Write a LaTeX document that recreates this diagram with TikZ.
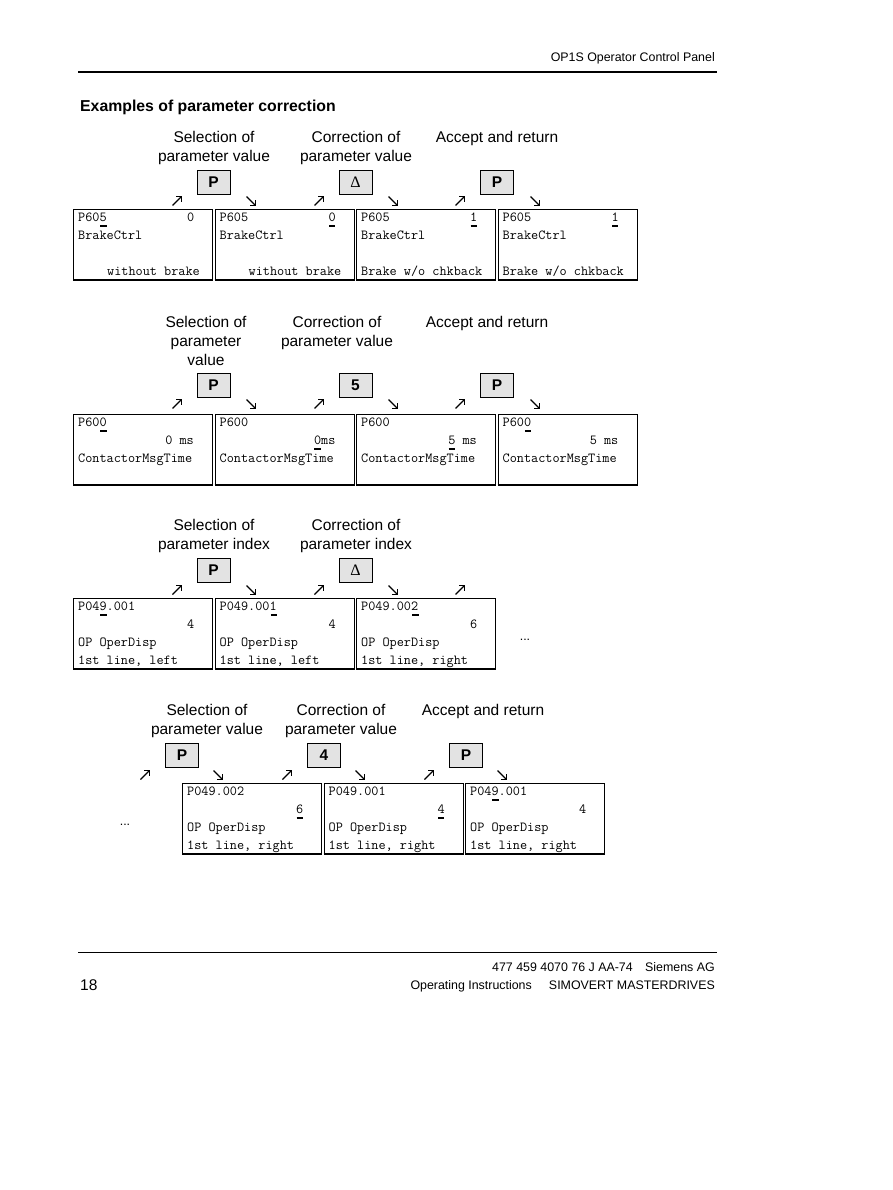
\documentclass[tikz,border=0pt]{standalone}
\usepackage{fontspec}
\setmainfont{Liberation Sans}
\newfontfamily\monof{Latin Modern Mono}
\newfontfamily\seriff{Liberation Serif}
\usetikzlibrary{calc}
\newcommand\dbx[3]{\node[dbox] (#1) at (#2,#3) {};\draw[line width=1.9pt] (#1.south west) -- (#1.south east);}
\newcommand\dtx[4]{\node[dtext] (#1l#3c#2) at ($(#1.north west)+({5+#2*7.26},{12.5+#3*18})$) {#4};}
\newcommand\dul[3]{\draw[uln] ($(#1.north west)+({5.6+#2*7.26},{17+#3*18})$) -- ++(6.2,0);}
\newcommand\aup[2]{\draw[arr] (#1,#2) ++(-4.5,4.5) -- ++(9,-9); \draw[ahd] (#1,#2) ++(-1,-4.5) -- ++(5.5,0) -- ++(0,5.5);}
\newcommand\adn[2]{\draw[arr] (#1,#2) ++(-4.5,-4.5) -- ++(9,9); \draw[ahd] (#1,#2) ++(-1,4.5) -- ++(5.5,0) -- ++(0,-5.5);}
\begin{document}
\begin{tikzpicture}[x=1pt,y=-1pt,
  lbl/.style={font=\fontsize{15.5}{19}\selectfont, align=center, inner sep=0pt, anchor=north},
  btn/.style={draw=black, line width=0.9pt, fill=black!11, minimum width=33pt, minimum height=24pt, inner sep=0pt, font=\fontsize{15.5}{18}\selectfont\bfseries},
  dbtn/.style={btn, font=\fontsize{16}{18}\selectfont\seriff},
  dbox/.style={draw=black, line width=1.1pt, minimum width=139pt, minimum height=70pt, anchor=north west, inner sep=0pt},
  dtext/.style={font=\monof\fontsize{13.83}{16}\selectfont, inner sep=0pt, anchor=base west},
  uln/.style={line width=1.2pt},
  arr/.style={line width=1.1pt},
  ahd/.style={line width=1.6pt, line join=miter},
  small/.style={font=\fontsize{12.4}{14}\selectfont, inner sep=0pt},
]
\fill[white] (0,0) rectangle (892,1190);
\useasboundingbox (0,0) rectangle (892,1190);

% header
\node[small, anchor=base east] (hdr) at (715,61.5) {OP1S Operator Control Panel};
\draw[line width=1.8pt] (78,72) -- (717,72);
\node[font=\fontsize{15.8}{19}\selectfont\bfseries, inner sep=0pt, anchor=base west] (title) at (80,112) {Examples of parameter correction};

% ---------- section 1
\node[lbl] (s1a) at (214,131) {Selection of\\parameter value};
\node[lbl] (s1b) at (356,131) {Correction of\\parameter value};
\node[lbl] (s1c) at (497,131) {Accept and return};
\node[btn] (k11) at (213.5,182) {P};
\node[dbtn] (k12) at (355.5,182) {Δ};
\node[btn] (k13) at (497,182) {P};
\aup{177}{201} \adn{251}{201} \aup{319}{201} \adn{393}{201} \aup{460}{201} \adn{535}{201}
\dbx{b11}{73}{209} \dbx{b12}{214.5}{209} \dbx{b13}{356}{209} \dbx{b14}{497.5}{209}
\dtx{b11}{0}{0}{P605} \dul{b11}{3}{0} \dtx{b11}{15}{0}{0} \dtx{b11}{0}{1}{BrakeCtrl} \dtx{b11}{4}{3}{without brake}
\dtx{b12}{0}{0}{P605} \dtx{b12}{15}{0}{0} \dul{b12}{15}{0} \dtx{b12}{0}{1}{BrakeCtrl} \dtx{b12}{4}{3}{without brake}
\dtx{b13}{0}{0}{P605} \dtx{b13}{15}{0}{1} \dul{b13}{15}{0} \dtx{b13}{0}{1}{BrakeCtrl} \dtx{b13}{0}{3}{Brake w/o chkback}
\dtx{b14}{0}{0}{P605} \dtx{b14}{15}{0}{1} \dul{b14}{15}{0} \dtx{b14}{0}{1}{BrakeCtrl} \dtx{b14}{0}{3}{Brake w/o chkback}

% ---------- section 2
\node[lbl] (s2a) at (206,316) {Selection of\\parameter\\value};
\node[lbl] (s2b) at (337,316) {Correction of\\parameter value};
\node[lbl] (s2c) at (487,316) {Accept and return};
\node[btn] (k21) at (213.5,385) {P};
\node[btn] (k22) at (355.5,385) {5};
\node[btn] (k23) at (497,385) {P};
\aup{177}{404} \adn{251}{404} \aup{319}{404} \adn{393}{404} \aup{460}{404} \adn{535}{404}
\dbx{b21}{73}{414} \dbx{b22}{214.5}{414} \dbx{b23}{356}{414} \dbx{b24}{497.5}{414}
\dtx{b21}{0}{0}{P600} \dul{b21}{3}{0} \dtx{b21}{12}{1}{0 ms} \dtx{b21}{0}{2}{ContactorMsgTime}
\dtx{b22}{0}{0}{P600} \dtx{b22}{13}{1}{0ms} \dul{b22}{13}{1} \dtx{b22}{0}{2}{ContactorMsgTime}
\dtx{b23}{0}{0}{P600} \dtx{b23}{12}{1}{5 ms} \dul{b23}{12}{1} \dtx{b23}{0}{2}{ContactorMsgTime}
\dtx{b24}{0}{0}{P600} \dul{b24}{3}{0} \dtx{b24}{12}{1}{5 ms} \dtx{b24}{0}{2}{ContactorMsgTime}

% ---------- section 3
\node[lbl] (s3a) at (214,519) {Selection of\\parameter index};
\node[lbl] (s3b) at (356,519) {Correction of\\parameter index};
\node[btn] (k31) at (213.5,570) {P};
\node[dbtn] (k32) at (355.5,570) {Δ};
\aup{177}{590} \adn{251}{590} \aup{319}{590} \adn{393}{590} \aup{460}{590}
\dbx{b31}{73}{598} \dbx{b32}{214.5}{598} \dbx{b33}{356}{598}
\dtx{b31}{0}{0}{P049.001} \dul{b31}{3}{0} \dtx{b31}{15}{1}{4} \dtx{b31}{0}{2}{OP OperDisp} \dtx{b31}{0}{3}{1st line, left}
\dtx{b32}{0}{0}{P049.001} \dul{b32}{7}{0} \dtx{b32}{15}{1}{4} \dtx{b32}{0}{2}{OP OperDisp} \dtx{b32}{0}{3}{1st line, left}
\dtx{b33}{0}{0}{P049.002} \dul{b33}{7}{0} \dtx{b33}{15}{1}{6} \dtx{b33}{0}{2}{OP OperDisp} \dtx{b33}{0}{3}{1st line, right}
\node[small, inner sep=0pt] (dots1) at (525,640) {...};

% ---------- section 4
\node[lbl] (s4a) at (207,704) {Selection of\\parameter value};
\node[lbl] (s4b) at (341,704) {Correction of\\parameter value};
\node[lbl] (s4c) at (483,704) {Accept and return};
\node[btn] (k41) at (182,755) {P};
\node[btn] (k42) at (324,755) {4};
\node[btn] (k43) at (466,755) {P};
\aup{145}{775} \adn{218}{775} \aup{287}{775} \adn{360}{775} \aup{429}{775} \adn{502}{775}
\dbx{b41}{182}{783} \dbx{b42}{323.5}{783} \dbx{b43}{465}{783}
\dtx{b41}{0}{0}{P049.002} \dtx{b41}{15}{1}{6} \dul{b41}{15}{1} \dtx{b41}{0}{2}{OP OperDisp} \dtx{b41}{0}{3}{1st line, right}
\dtx{b42}{0}{0}{P049.001} \dtx{b42}{15}{1}{4} \dul{b42}{15}{1} \dtx{b42}{0}{2}{OP OperDisp} \dtx{b42}{0}{3}{1st line, right}
\dtx{b43}{0}{0}{P049.001} \dul{b43}{3}{0} \dtx{b43}{15}{1}{4} \dtx{b43}{0}{2}{OP OperDisp} \dtx{b43}{0}{3}{1st line, right}
\node[small, inner sep=0pt] (dots2) at (125,825) {...};

% footer
\draw[line width=0.9pt] (78,952) -- (717,952);
\node[small, anchor=base east] (f1) at (633,971.5) {477 459 4070 76 J AA-74};
\node[small, anchor=base east] (f2) at (715,971.5) {Siemens AG};
\node[font=\fontsize{15.5}{18}\selectfont, inner sep=0pt, anchor=base west] (pg) at (80,990.5) {18};
\node[small, anchor=base east] (f3) at (532,989.5) {Operating Instructions};
\node[small, anchor=base east] (f4) at (715,989.5) {SIMOVERT MASTERDRIVES};
\end{tikzpicture}
\end{document}
